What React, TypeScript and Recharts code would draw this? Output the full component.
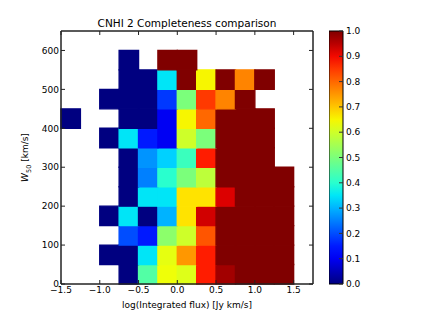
import { ScatterChart, XAxis, YAxis, ReferenceArea, Label } from 'recharts'

// bin edges (lower edge of each bin)
const xBinStarts = [-1.5, -1.25, -1.0, -0.75, -0.5, -0.25, 0, 0.25, 0.5, 0.75, 1.0, 1.25]
const yBinStarts = [0, 50, 100, 150, 200, 250, 300, 350, 400, 450, 500, 550]
const xBinWidth = 0.25
const yBinWidth = 50

// completeness per cell, rows from W50 = 0 upwards, null = no sources
const completeness: (number | null)[][] = [
  [null, null, null, 0, 0.45, 0.64, 0.62, 0.88, 0.97, 1, 1, 1],
  [null, null, 0, 0, 0.35, 0.63, 0.75, 0.88, 1, 1, 1, 1],
  [null, null, null, 0.2, 0.15, 0.52, 0.6, 0.82, 1, 1, 1, 1],
  [null, null, 0, 0.35, 0, 0.3, 0.67, 0.93, 1, 1, 1, 1],
  [null, null, null, 0, 0.35, 0.35, 0.67, 0.67, 0.92, 1, 1, 1],
  [null, null, null, 0, 0.25, 0.4, 0.5, 0.58, 1, 1, 1, 1],
  [null, null, null, 0, 0.27, 0.33, 0.42, 0.88, 1, 1, 1, null],
  [null, null, 0, 0.35, 0.15, 0.1, 0.6, 0.5, 1, 1, 1, null],
  [0, null, null, 0, 0, 0.1, 0.65, 0.8, 1, 1, 1, null],
  [null, null, 0, 0, 0, 0.18, 0.5, 0.85, 0.77, 1, null, null],
  [null, null, null, 0, 0, 0.35, 1, 0.65, 1, 0.77, 1, null],
  [null, null, null, 0, null, 1, 1, null, null, null, null, null],
]

const xTicks = [-1.5, -1.0, -0.5, 0, 0.5, 1.0, 1.5]
const yTicks = [0, 100, 200, 300, 400, 500, 600]
const cbTicks = [0, 0.1, 0.2, 0.3, 0.4, 0.5, 0.6, 0.7, 0.8, 0.9, 1.0]

const xDomain = [-1.5, 1.75]
const yDomain = [0, 650]

const FONT = 'DejaVu Sans, sans-serif'

// matplotlib "jet" segment data
const jetSeg: Record<string, number[][]> = {
  r: [[0, 0], [0.35, 0], [0.66, 1], [0.89, 1], [1, 0.5]],
  g: [[0, 0], [0.125, 0], [0.375, 1], [0.64, 1], [0.91, 0], [1, 0]],
  b: [[0, 0.5], [0.11, 1], [0.34, 1], [0.65, 0], [1, 0]],
}

function channel(seg: number[][], v: number) {
  for (let i = 1; i < seg.length; i++) {
    if (v <= seg[i][0]) {
      const [x0, y0] = seg[i - 1]
      const [x1, y1] = seg[i]
      return y0 + ((v - x0) / (x1 - x0)) * (y1 - y0)
    }
  }
  return seg[seg.length - 1][1]
}

function jet(v: number) {
  const c = (k: string) => Math.round(channel(jetSeg[k], v) * 255)
  return `rgb(${c('r')},${c('g')},${c('b')})`
}

const fmtX = (v: number) => v.toFixed(1).replace('-', '\u2212')

const axisStyle = { stroke: '#222' }
const tickFont = { fontSize: 9, fill: '#000', fontFamily: FONT }

function YLabel({ viewBox }: any) {
  const cx = 28
  const cy = viewBox.y + viewBox.height / 2
  return (
    <text
      x={cx}
      y={cy}
      transform={`rotate(-90, ${cx}, ${cy})`}
      textAnchor="middle"
      fontFamily={FONT}
      fontSize={9}
      fill="#000"
    >
      <tspan fontStyle="italic">W</tspan>
      <tspan fontSize={6.5} dy={2.5}>50</tspan>
      <tspan dy={-2.5}> [km/s]</tspan>
    </text>
  )
}

export default function App() {
  const cells: { x: number; y: number; v: number }[] = []
  completeness.forEach((row, ri) =>
    row.forEach((v, ci) => {
      if (v !== null) cells.push({ x: xBinStarts[ci], y: yBinStarts[ri], v })
    })
  )

  const gradStops = cbTicks.flatMap((t, i) => (i === 0 ? [t] : [t - 0.05, t]))

  return (
    <div style={{ position: 'absolute', left: 0, top: 0, width: 421, height: 316, background: '#fff', fontFamily: FONT }}>
      <svg width={0} height={0} style={{ position: 'absolute' }}>
        <defs>
          <linearGradient id="jetGrad" x1="0" y1="1" x2="0" y2="0">
            {gradStops.map((s) => (
              <stop key={s} offset={s} stopColor={jet(s)} />
            ))}
          </linearGradient>
        </defs>
      </svg>

      <div
        style={{
          position: 'absolute',
          left: 61,
          width: 252,
          top: 17,
          textAlign: 'center',
          fontSize: 10.5,
          lineHeight: '12px',
          fontFamily: FONT,
        }}
      >
        CNHI 2 Completeness comparison
      </div>

      <div style={{ position: 'absolute', left: 0, top: 0 }}>
        <ScatterChart width={421} height={316} margin={{ top: 30, right: 107, bottom: 0, left: 0 }}>
          {cells.map((c, i) => (
            <ReferenceArea
              key={i}
              x1={c.x}
              x2={c.x + xBinWidth}
              y1={c.y}
              y2={c.y + yBinWidth}
              fill={jet(c.v)}
              fillOpacity={1}
              stroke={jet(c.v)}
              strokeWidth={1.4}
            />
          ))}
          {/* plot frame */}
          <ReferenceArea
            x1={xDomain[0]}
            x2={xDomain[1]}
            y1={yDomain[0]}
            y2={yDomain[1]}
            fill="none"
            stroke="#222"
            strokeWidth={1}
          />
          <XAxis
            type="number"
            dataKey="x"
            domain={xDomain}
            ticks={xTicks}
            tickFormatter={fmtX}
            height={32}
            tickSize={-4}
            tickMargin={7}
            axisLine={axisStyle}
            tickLine={axisStyle}
            tick={tickFont}
            allowDataOverflow
          >
            <Label
              value="log(Integrated flux) [Jy km/s]"
              position="insideBottom"
              offset={8}
              style={{ fontSize: 9, fill: '#000', fontFamily: FONT }}
            />
          </XAxis>
          <XAxis
            xAxisId="top"
            orientation="top"
            type="number"
            dataKey="x"
            domain={xDomain}
            ticks={xTicks}
            tickFormatter={() => ''}
            height={1}
            tickSize={-4}
            axisLine={axisStyle}
            tickLine={axisStyle}
            allowDataOverflow
          />
          <YAxis
            type="number"
            dataKey="y"
            domain={yDomain}
            ticks={yTicks}
            width={61}
            tickSize={-4}
            tickMargin={6}
            axisLine={axisStyle}
            tickLine={axisStyle}
            tick={tickFont}
            allowDataOverflow
          >
            <Label content={YLabel} />
          </YAxis>
          <YAxis
            yAxisId="right"
            orientation="right"
            type="number"
            dataKey="y"
            domain={yDomain}
            ticks={yTicks}
            tickFormatter={() => ''}
            width={1}
            tickSize={-4}
            axisLine={axisStyle}
            tickLine={axisStyle}
            allowDataOverflow
          />
        </ScatterChart>
      </div>

      <div style={{ position: 'absolute', left: 329, top: 0 }}>
        <ScatterChart width={80} height={316} margin={{ top: 31, right: 0, bottom: 32, left: 0 }}>
          <XAxis type="number" dataKey="x" domain={[0, 1]} hide allowDataOverflow />
          <ReferenceArea
            x1={0}
            x2={1}
            y1={0}
            y2={1}
            fill="url(#jetGrad)"
            fillOpacity={1}
            stroke="#000"
            strokeWidth={1}
          />
          <YAxis
            orientation="right"
            type="number"
            dataKey="y"
            domain={[0, 1]}
            ticks={cbTicks}
            tickFormatter={(v: number) => v.toFixed(1)}
            width={66}
            tickSize={-4}
            tickMargin={7}
            axisLine={false}
            tickLine={{ stroke: '#333' }}
            tick={tickFont}
            allowDataOverflow
          />
        </ScatterChart>
      </div>
    </div>
  )
}
